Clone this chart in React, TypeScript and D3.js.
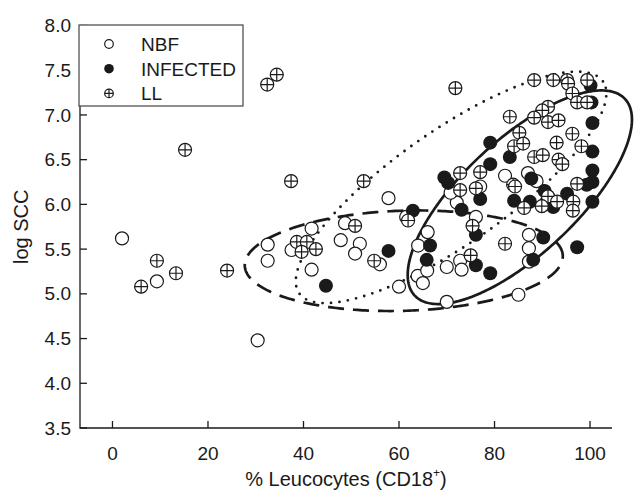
import React, { useEffect, useRef } from 'react';
import * as d3 from 'd3';

// [% CD18+ leucocytes, log SCC]
const nbf: [number, number][] = [
  [2, 5.62], [9.3, 5.14], [30.4, 4.48], [32.5, 5.55], [32.5, 5.37], [37.5, 5.49],
  [41.7, 5.73], [41.7, 5.27], [47.8, 5.6], [48.7, 5.79], [51.8, 5.56], [50.8, 5.45],
  [56, 5.33], [57.8, 6.07], [60, 5.08], [61.5, 5.86], [64, 5.54], [63.9, 5.2],
  [65.9, 5.26], [65, 5.12], [66, 5.69], [70, 5.3], [72.8, 5.37], [73.1, 5.27],
  [70, 4.91], [72.1, 6.02], [76.1, 5.86], [70.8, 6.13], [77, 6.2], [82.2, 6.32],
  [87, 6.35], [88.8, 6.26], [87.2, 5.66], [87.2, 5.51], [87.2, 5.36], [85, 4.99],
];

const infected: [number, number][] = [
  [44.7, 5.09], [57.8, 5.48], [62.9, 5.93], [66.5, 5.54], [65.8, 5.38], [69.5, 6.3],
  [70.3, 6.24], [73.1, 5.94], [76.1, 5.66], [76.1, 5.32], [79.1, 5.23], [77, 6.06],
  [79.1, 6.69], [79.1, 6.45], [83.2, 6.53], [84.1, 6.04], [87.4, 6.03], [90.9, 6.03],
  [87.7, 6.29], [90.2, 5.63], [88.1, 5.38], [92.3, 5.97], [95.2, 6.12], [97.3, 5.52],
  [99.3, 6.22], [100.5, 6.03], [100.5, 6.25], [100.5, 6.38], [100.5, 6.59], [100.5, 6.91],
  [100.1, 7.33], [100.3, 7.14], [90.5, 6.15],
];

const ll: [number, number][] = [
  [6, 5.08], [9.3, 5.37], [13.3, 5.23], [15.2, 6.61], [24, 5.26], [32.4, 7.34],
  [34.4, 7.45], [37.4, 6.26], [52.6, 6.26], [38.6, 5.58], [40.7, 5.58], [39.6, 5.47],
  [42.6, 5.5], [50.8, 5.76], [54.8, 5.37], [61.9, 5.82], [71.8, 7.3], [72.8, 6.35],
  [72.8, 6.16], [76.1, 6.18], [77, 6.36], [75.4, 5.76], [75, 5.43], [82.2, 5.56],
  [84.1, 6.65], [83.9, 6.22], [84.3, 6.2], [83.2, 6.98], [85.2, 6.8], [86, 6.68],
  [88.3, 7.39], [92.3, 7.39], [95.2, 7.39], [95.4, 7.35], [99.4, 7.39], [96.3, 7.24],
  [97.3, 7.14], [99.4, 7.14], [91.2, 7.09], [90, 7.05], [88.3, 6.97], [91.2, 6.92],
  [93.4, 6.94], [93, 6.69], [96.3, 6.79], [98.2, 6.65], [88.3, 6.53], [90.1, 6.55],
  [93.4, 6.5], [94.2, 6.45], [91.2, 6.09], [97.3, 6.23], [93.1, 6.03], [96.5, 6.03],
  [86.2, 5.96], [89.9, 5.98], [96.4, 5.93],
];

// group ellipses: centre and two conjugate half-axis vectors, in data units
const ellipses = [
  { name: 'NBF', c: [61, 5.37], u: [33.3, 0.05], v: [0, 0.56], dash: '16 9' },
  { name: 'INFECTED', c: [85.3, 6.08], u: [22, 1.1], v: [-8.2, 0.465], dash: null },
  { name: 'LL', c: [70.9, 6.19], u: [31.8, 1.185], v: [-6.8, 0.52], dash: '0 8.5' },
];

const xTicks = [0, 20, 40, 60, 80, 100];
const yTicks = [3.5, 4, 4.5, 5, 5.5, 6, 6.5, 7, 7.5, 8];
const legendItems = ['NBF', 'INFECTED', 'LL'];

const W = 636;
const H = 491;
const font = '"Liberation Sans", Arial, sans-serif';

function App() {
  const svgRef = useRef<SVGSVGElement>(null);

  useEffect(() => {
    const svg = d3.select(svgRef.current);
    svg.selectAll('*').remove();

    const x = d3.scaleLinear().domain([-6.8, 104.6]).range([80, 612]);
    const y = d3.scaleLinear().domain([3.5, 8]).range([428, 25.5]);
    const ink = '#1a1a1a';

    // ellipses
    const line = d3.line<[number, number]>().x((d) => x(d[0])).y((d) => y(d[1])).curve(d3.curveLinearClosed);
    ellipses.forEach((e) => {
      const pts: [number, number][] = d3.range(0, 360, 1).map((deg) => {
        const t = (deg * Math.PI) / 180;
        return [
          e.c[0] + e.u[0] * Math.cos(t) + e.v[0] * Math.sin(t),
          e.c[1] + e.u[1] * Math.cos(t) + e.v[1] * Math.sin(t),
        ];
      });
      svg.append('path')
        .attr('d', line(pts))
        .attr('fill', 'none')
        .attr('stroke', ink)
        .attr('stroke-width', e.name === 'LL' ? 2.8 : 2.7)
        .attr('stroke-linecap', e.name === 'LL' ? 'round' : 'butt')
        .attr('stroke-dasharray', e.dash ?? null);
    });

    const r = 6.5;
    const drawOpen = (g: any, cx: number, cy: number, rr: number) => {
      g.append('circle').attr('cx', cx).attr('cy', cy).attr('r', rr)
        .attr('fill', 'white').attr('stroke', ink).attr('stroke-width', 1.2);
    };
    const drawFilled = (g: any, cx: number, cy: number, rr: number) => {
      g.append('circle').attr('cx', cx).attr('cy', cy).attr('r', rr + 0.5).attr('fill', ink);
    };
    const drawCross = (g: any, cx: number, cy: number, rr: number) => {
      drawOpen(g, cx, cy, rr);
      g.append('path')
        .attr('d', `M${cx - rr},${cy}H${cx + rr}M${cx},${cy - rr}V${cy + rr}`)
        .attr('stroke', ink).attr('stroke-width', 1.2);
    };

    const pts = svg.append('g');
    nbf.forEach((d) => drawOpen(pts, x(d[0]), y(d[1]), r));
    infected.forEach((d) => drawFilled(pts, x(d[0]), y(d[1]), r));
    ll.forEach((d) => drawCross(pts, x(d[0]), y(d[1]), r));

    // axes
    const axisG = svg.append('g').attr('font-family', font).attr('font-size', 19).attr('fill', ink);
    axisG.append('path').attr('d', `M80,${y(8)}V${y(3.5)}H612`).attr('fill', 'none').attr('stroke', ink).attr('stroke-width', 1.3);
    xTicks.forEach((t) => {
      axisG.append('line').attr('x1', x(t)).attr('x2', x(t)).attr('y1', y(3.5)).attr('y2', y(3.5) - 7)
        .attr('stroke', ink).attr('stroke-width', 1.3);
      axisG.append('text').attr('x', x(t)).attr('y', 460).attr('text-anchor', 'middle').text(t);
    });
    yTicks.forEach((t) => {
      axisG.append('line').attr('x1', 80).attr('x2', 87).attr('y1', y(t)).attr('y2', y(t))
        .attr('stroke', ink).attr('stroke-width', 1.3);
      axisG.append('text').attr('x', 71).attr('y', y(t)).attr('dy', '0.35em').attr('text-anchor', 'end').text(t.toFixed(1));
    });

    const xt = axisG.append('text').attr('x', 346).attr('y', 486).attr('text-anchor', 'middle').attr('font-size', 20);
    xt.append('tspan').text('% Leucocytes (CD18');
    xt.append('tspan').attr('dy', -9).attr('font-size', 12).text('+');
    xt.append('tspan').attr('dy', 9).text(')');

    axisG.append('text').attr('transform', `translate(28,${(y(8) + y(3.5)) / 2}) rotate(-90)`)
      .attr('text-anchor', 'middle').attr('font-size', 20).text('log SCC');

    // legend
    const lg = svg.append('g').attr('font-family', font).attr('font-size', 19).attr('fill', ink);
    lg.append('rect').attr('x', 79).attr('y', 25).attr('width', 164).attr('height', 81)
      .attr('fill', 'white').attr('stroke', '#444').attr('stroke-width', 1.2);
    legendItems.forEach((name, i) => {
      const cy = 44 + i * 24.7;
      if (name === 'NBF') drawOpen(lg, 109, cy, 4.3);
      if (name === 'INFECTED') drawFilled(lg, 109, cy, 4.3);
      if (name === 'LL') drawCross(lg, 109, cy, 4.3);
      lg.append('text').attr('x', 141).attr('y', cy).attr('dy', '0.36em').text(name);
    });
  }, []);

  return (
    <div style={{ position: 'absolute', left: 0, top: 0 }}>
      <svg ref={svgRef} width={W} height={H} style={{ display: 'block', background: 'white' }} />
    </div>
  );
}

export default App;
